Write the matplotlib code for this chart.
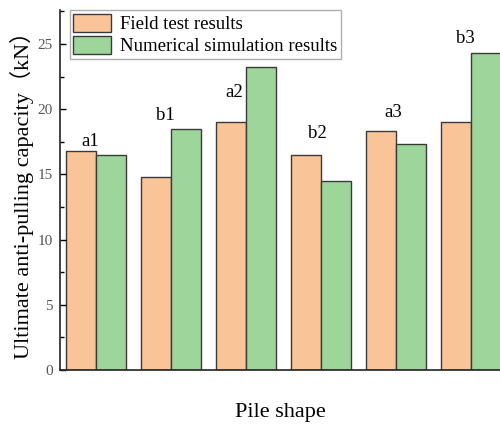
import matplotlib
matplotlib.use("Agg")
import matplotlib.pyplot as plt
import numpy as np
from matplotlib.ticker import MultipleLocator

categories = ["a1", "b1", "a2", "b2", "a3", "b3"]
field_test = [16.8, 14.8, 19.0, 16.5, 18.3, 19.0]
simulation = [16.5, 18.5, 23.2, 14.5, 17.3, 24.3]
series_names = ["Field test results", "Numerical simulation results"]

plt.rcParams['font.family'] = ['Liberation Serif', 'Noto Sans CJK SC']

fig = plt.figure(figsize=(5.0, 4.34), dpi=100)
ax = fig.add_axes([0.12, 0.1475, 0.88, 0.8295])

x = np.arange(len(categories))
w = 0.4
c1 = '#F9C598'
c2 = '#9DD59A'
ec = '#3a3a3a'
ax.bar(x - w/2, field_test, w, color=c1, edgecolor=ec, linewidth=1.0, label=series_names[0])
ax.bar(x + w/2, simulation, w, color=c2, edgecolor=ec, linewidth=1.0, label=series_names[1])

# category labels above groups
label_offsets = [0.4, 0.7, -2.3, 1.3, 1.1, 0.8]
xshift = [-0.07, -0.08, -0.15, -0.05, -0.04, -0.07]
for i, cat in enumerate(categories):
    top = max(field_test[i], simulation[i])
    ax.text(x[i] + xshift[i], top + label_offsets[i], cat, ha='center', va='baseline',
            fontsize=13.5)

ax.set_xlim(-0.48, 5.39)
ax.set_ylim(0, 27.6)
ax.yaxis.set_major_locator(MultipleLocator(5))
ax.yaxis.set_minor_locator(MultipleLocator(2.5))
ax.tick_params(axis='y', which='major', direction='in', length=4.5, width=1, labelsize=11,
               labelcolor='#555555', pad=5)
ax.tick_params(axis='y', which='minor', direction='in', length=3, width=1)
ax.set_xticks([])
ax.spines['top'].set_visible(False)
ax.spines['right'].set_visible(False)
for s in ['left', 'bottom']:
    ax.spines[s].set_linewidth(1.2)
    ax.spines[s].set_color('#222222')

ax.set_ylabel("Ultimate anti-pulling capacity（kN）", fontsize=16, labelpad=3)
ax.set_xlabel("Pile shape", fontsize=16, labelpad=24)

leg = ax.legend(loc='upper left', bbox_to_anchor=(0.022, 1.0), borderaxespad=0,
                fontsize=13.5, frameon=True, fancybox=False, edgecolor='#999999',
                handlelength=2.0, handleheight=1.1, handletextpad=0.5,
                borderpad=0.2, labelspacing=0.15)
leg.get_frame().set_linewidth(1.0)

fig.savefig("out.png", dpi=100)
